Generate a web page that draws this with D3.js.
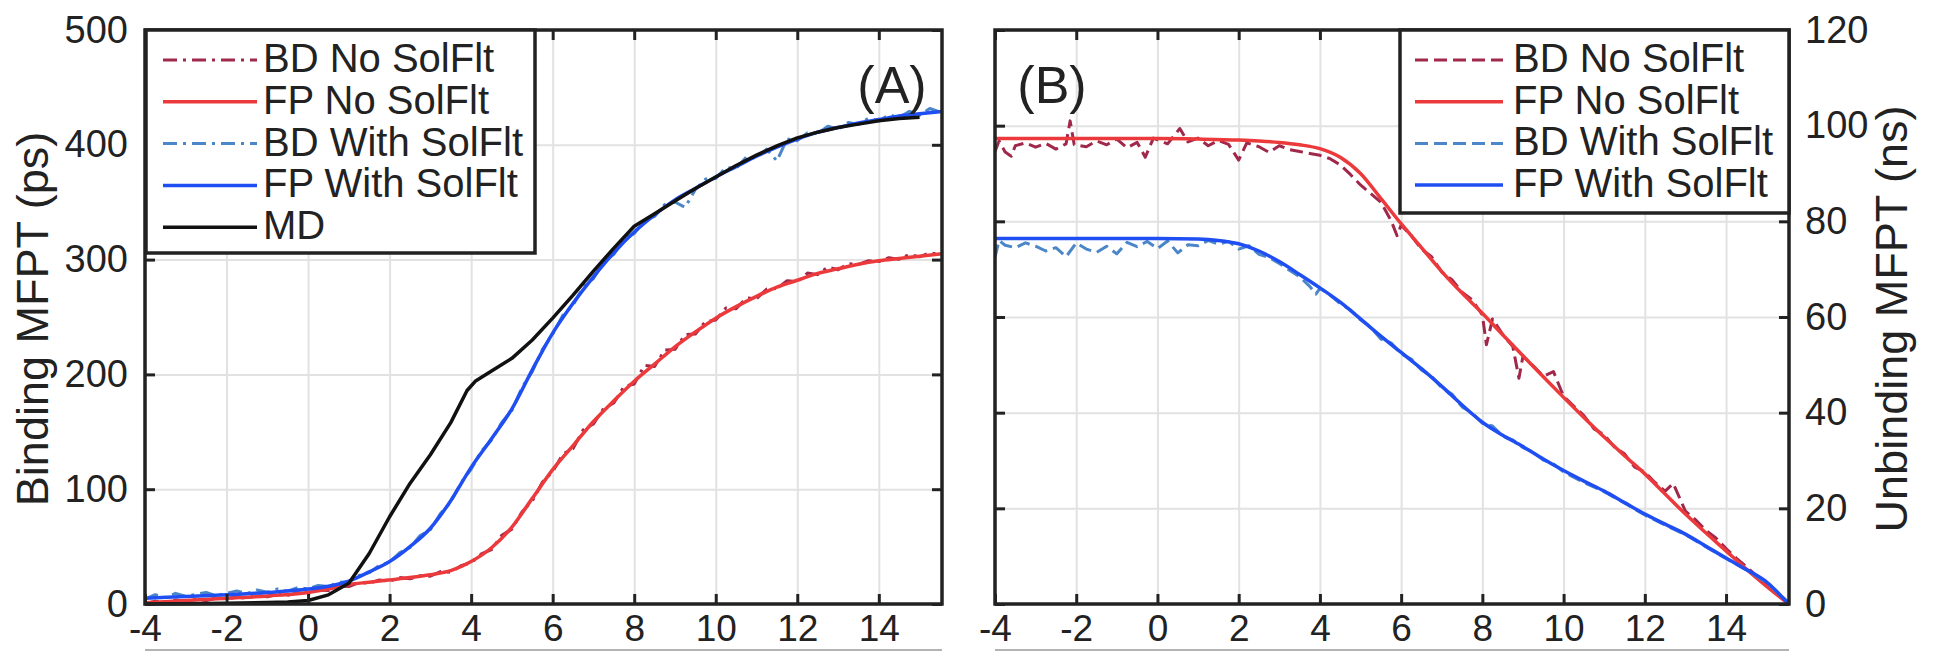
<!DOCTYPE html>
<html>
<head>
<meta charset="utf-8">
<script src="https://cdn.jsdelivr.net/npm/d3@7"></script>
<style>
  html, body { margin: 0; padding: 0; background: #fff; }
  svg { display: block; font-family: "Liberation Sans", Arial, Helvetica, sans-serif; }
</style>
</head>
<body>
<svg id="fig" width="1933" height="651"></svg>
<script>
// ---------------- data ----------------
const xTicks = [-4, -2, 0, 2, 4, 6, 8, 10, 12, 14];
const xTickLabels = ["-4", "-2", "0", "2", "4", "6", "8", "10", "12", "14"];
const bindTicks = [0, 100, 200, 300, 400, 500];
const unbindTicks = [0, 20, 40, 60, 80, 100, 120];

const namesA = ["BD No SolFlt", "FP No SolFlt", "BD With SolFlt", "FP With SolFlt", "MD"];
const namesB = ["BD No SolFlt", "FP No SolFlt", "BD With SolFlt", "FP With SolFlt"];

// Binding MFPT (ps)
const bdNoSolA = [[-4,0.5],[-3.75,2.5],[-3.5,1.2],[-3.25,3.4],[-3,2.2],[-2.75,4.1],[-2.5,3],[-2.25,5.2],[-2,4.3],[-1.75,5.9],[-1.5,5.1],[-1.25,7.4],[-1,6.2],[-0.75,8.3],[-0.5,7.5],[-0.25,9.9],[0,9.1],[0.25,12.2],[0.5,11.8],[0.75,15.6],[1,15.2],[1.25,18.6],[1.5,18.1],[1.75,20.9],[2,19.8],[2.25,23.1],[2.5,21.9],[2.75,24.7],[3,24.2],[3.25,28.3],[3.5,27.6],[3.75,33.4],[4,35.8],[4.25,43.6],[4.5,47.4],[4.75,59.8],[5,65.2],[5.25,80.4],[5.5,89.6],[5.75,106.3],[6,115.2],[6.25,130.6],[6.5,135.4],[6.75,151.8],[7,156.9],[7.25,170.2],[7.5,175.1],[7.75,189.5],[8,191.6],[8.25,207.8],[8.5,206.9],[8.75,221.3],[9,221.8],[9.25,234.6],[9.5,235.2],[9.75,246.1],[10,247.3],[10.25,257.9],[10.5,257.2],[10.75,266.8],[11,265.9],[11.25,274.4],[11.5,274.8],[11.75,281.6],[12,280.7],[12.25,288.3],[12.5,286.9],[12.75,293.5],[13,291.2],[13.25,296.4],[13.5,295.8],[13.75,299.1],[14,298.3],[14.25,301.7],[14.5,300.2],[14.75,304.6],[15,302.4],[15.25,306.1],[15.55,303.8]];
const fpNoSolA = [[-4,1],[-3,3],[-2,5],[-1,7],[0,10],[0.5,13],[1,17],[1.5,19],[2,21],[2.5,23],[3,25.5],[3.5,29],[4,37],[4.5,49],[5,67],[5.5,92],[6,117],[6.5,138],[7,159],[7.5,177],[8,194],[8.5,209],[9,224],[9.5,237],[10,249],[10.5,259],[11,268],[11.5,276],[12,282],[12.5,288],[13,292],[13.5,296],[14,299],[14.5,301],[15,303],[15.55,305]];
const bdWithSolA = [[-4,4.2],[-3.75,8.1],[-3.5,5.6],[-3.25,9.3],[-3,6.8],[-2.75,8.4],[-2.5,10.1],[-2.25,7.2],[-2,9.4],[-1.75,11.3],[-1.5,9.1],[-1.25,12.2],[-1,10.3],[-0.75,13.1],[-0.5,11.2],[-0.25,14.3],[0,13.1],[0.25,16.2],[0.5,15.1],[0.75,18.9],[1,19.4],[1.25,24.8],[1.5,27.3],[1.75,33.6],[2,36.4],[2.25,44.7],[2.5,49.2],[2.75,59.6],[3,64.8],[3.25,78.9],[3.5,88.7],[3.75,105.6],[4,117.4],[4.25,133.2],[4.5,142.6],[4.75,158.1],[5,168.7],[5.25,188.9],[5.5,202.4],[5.75,221.8],[6,235.1],[6.25,251.6],[6.5,260.4],[6.75,276.2],[7,283.5],[7.25,298.1],[7.5,304.6],[7.75,318.3],[8,322.7],[8.25,334.2],[8.5,337.6],[8.75,348.1],[9,350.2],[9.25,345.5],[9.5,361.1],[9.75,370.2],[10,370.6],[10.25,380.3],[10.5,379.4],[10.75,389.4],[11,388.6],[11.25,396.2],[11.5,385.9],[11.75,405.1],[12,403.6],[12.25,410.4],[12.5,409.8],[12.75,416.2],[13,413.7],[13.25,419.4],[13.5,417.6],[13.75,423.2],[14,420.8],[14.25,426.1],[14.5,423.7],[14.75,429.2],[15,425.8],[15.25,431.6],[15.55,427.9]];
const fpWithSolA = [[-4,5],[-3,6.5],[-2,8],[-1,10],[0,13],[0.5,15.5],[1,20],[1.5,28],[2,37],[2.5,50],[3,66],[3.5,90],[4,119],[4.5,144],[5,170],[5.5,204],[6,236],[6.5,262],[7,285],[7.5,306],[8,324],[8.5,339],[9,352],[9.5,362],[10,372],[10.5,381],[11,390],[11.5,398],[12,405],[12.5,411],[13,415],[13.5,419],[14,422],[14.5,425],[15,427],[15.55,429]];
const mdBindA = [[-4,0],[-3,0.3],[-2,0.6],[-1,1.2],[-0.5,1.8],[0,3],[0.5,8],[1,18],[1.5,44],[2,76],[2.5,105],[3,130],[3.5,158],[3.9,186],[4.1,194],[4.5,203],[5,214],[5.5,230],[6,249],[6.5,269],[7,290],[7.5,310],[8,329],[8.5,340],[9,351],[9.5,362],[10,372],[10.5,382],[11,391],[11.5,399],[12,406],[12.5,411],[13,415],[13.5,418],[14,421],[14.5,423],[15,424]];

// Unbinding MFPT (ns)
const bdNoSolB = [[-4,94.6],[-3.9,96.8],[-3.75,94.5],[-3.6,93.6],[-3.5,95.8],[-3.25,96.4],[-3,95.5],[-2.75,96.3],[-2.5,95.1],[-2.25,96.2],[-2.15,101],[-2.05,96],[-1.75,95.6],[-1.5,96.8],[-1.25,96],[-1,97.2],[-0.75,95.4],[-0.5,96.5],[-0.3,93.4],[-0.1,97.4],[0.25,96.2],[0.55,99.4],[0.75,96.6],[1,97.4],[1.25,95.8],[1.5,96.9],[1.75,96.1],[2,92.8],[2.2,96.4],[2.5,95.6],[2.75,94.4],[3,95.8],[3.25,95],[3.5,94.6],[3.75,94.2],[4,93.8],[4.25,93.1],[4.5,91.8],[4.75,89.8],[5,87.6],[5.25,85.8],[5.5,84],[5.75,80.2],[5.9,77],[6,79.2],[6.25,77],[6.5,74.2],[6.75,72.6],[7,69.4],[7.25,67.8],[7.5,65.2],[7.75,63.6],[8,60.4],[8.1,54.2],[8.25,59.6],[8.5,56.4],[8.75,53.8],[8.9,47.2],[9,51.8],[9.25,49.8],[9.5,47.6],[9.75,48.6],[10,43.4],[10.25,41.4],[10.5,39.4],[10.75,36.6],[11,35.4],[11.25,32.8],[11.5,31.4],[11.75,28.6],[12,27.6],[12.25,25.4],[12.5,23.6],[12.7,25.2],[13,19.4],[13.25,17.6],[13.5,15.4],[13.75,13.8],[14,11.6],[14.25,9.6],[14.5,7.8],[14.75,5.9],[15,4.2],[15.25,2.4],[15.5,0.6]];
const fpNoSolB = [[-4,97.3],[-3,97.3],[-2,97.3],[-1,97.3],[0,97.3],[1,97.2],[2,97.0],[2.5,96.8],[3,96.5],[3.5,96.0],[4,95.2],[4.5,93.4],[5,90.0],[5.5,84.8],[6,79.5],[6.5,74.5],[7,69.5],[7.5,65.0],[8,60.8],[8.5,56.3],[9,51.9],[9.5,47.5],[10,43.2],[10.5,39.0],[11,34.9],[11.5,31.0],[12,27.2],[12.5,23.0],[13,18.8],[13.5,14.9],[14,11.1],[14.5,7.3],[15,3.7],[15.5,0.3]];
const bdWithSolB = [[-4,72.5],[-3.9,76],[-3.75,75],[-3.5,74.5],[-3.25,75.5],[-3,74.8],[-2.75,73.8],[-2.5,74.5],[-2.25,72.6],[-2,75.5],[-1.75,74.2],[-1.5,73.5],[-1.25,74.8],[-1,73.2],[-0.75,75.6],[-0.5,74.7],[-0.25,75.8],[0,74.3],[0.25,75.9],[0.5,73.4],[0.75,75.1],[1,74.9],[1.25,76],[1.5,75.2],[1.75,75.8],[2,74.2],[2.25,74.9],[2.5,73.1],[2.75,72.4],[3,71.2],[3.25,69.8],[3.5,68.4],[3.75,66.4],[3.9,64.8],[4,66],[4.25,64.6],[4.5,62.8],[4.75,61.5],[5,59.4],[5.25,57.9],[5.5,55.4],[5.75,54.6],[6,52.3],[6.25,51.2],[6.5,48.9],[6.75,47.6],[7,45.2],[7.25,43.9],[7.5,41.2],[7.75,39.9],[8,37.8],[8.25,37.2],[8.5,35.1],[8.75,34.3],[9,32.7],[9.25,31.8],[9.5,30.1],[9.75,29.3],[10,27.6],[10.5,25.4],[11,23.5],[11.5,21.1],[12,18.6],[12.5,16.5],[13,14.5],[13.5,12.0],[14,9.5],[14.5,7.1],[15,4.5],[15.5,0.6]];
const fpWithSolB = [[-4,76.4],[-3,76.4],[-2,76.4],[-1,76.4],[0,76.4],[1,76.3],[1.5,76.0],[2,75.3],[2.5,73.8],[3,71.6],[3.5,68.9],[4,66.1],[4.5,63.1],[5,59.6],[5.5,56.0],[6,52.6],[6.5,49.2],[7,45.5],[7.5,41.6],[8,38.0],[8.5,35.3],[9,32.9],[9.5,30.3],[10,27.9],[10.5,25.7],[11,23.6],[11.5,21.2],[12,18.8],[12.5,16.7],[13,14.6],[13.5,12.1],[14,9.6],[14.5,7.2],[15,4.6],[15.5,0.4]];

// ---------------- styles ----------------
const INK = "#222";
const GRID = "#e2e2e2";
const styles = {
  bdNo:   { color: "#a0284a", width: 3,   dashA: "14,6,3,6", dashB: "13,6" },
  fpNo:   { color: "#ec3a3c", width: 3.5 },
  bdWith: { color: "#4a86c8", width: 3,   dashA: "14,6,3,6", dashB: "13,6" },
  fpWith: { color: "#1f4ff2", width: 3.5 },
  md:     { color: "#111",    width: 3.5 }
};

const svg = d3.select("#fig");
const X_DOMAIN = [-4, 15.55];

function drawPanel(cfg) {
  const { left, right, top, bottom } = cfg.box;
  const x = d3.scaleLinear().domain(X_DOMAIN).range([left, right]);
  const y = d3.scaleLinear().domain(cfg.yDomain).range([bottom, top]);
  const g = svg.append("g");

  // grid
  g.append("g").attr("transform", `translate(0,${bottom})`)
    .call(d3.axisBottom(x).tickValues(xTicks).tickSize(-(bottom - top)).tickFormat(""))
    .call(s => s.select(".domain").remove())
    .call(s => s.selectAll("line").attr("stroke", GRID).attr("stroke-width", 2));
  g.append("g").attr("transform", `translate(${left},0)`)
    .call(d3.axisLeft(y).tickValues(cfg.yTicks).tickSize(-(right - left)).tickFormat(""))
    .call(s => s.select(".domain").remove())
    .call(s => s.selectAll("line").attr("stroke", GRID).attr("stroke-width", 2));

  // data lines
  const clipId = "clip-" + cfg.id;
  svg.append("clipPath").attr("id", clipId).append("rect")
    .attr("x", left).attr("y", top - 4).attr("width", right - left).attr("height", bottom - top + 8);
  const lines = g.append("g").attr("clip-path", `url(#${clipId})`);
  cfg.series.forEach(s => {
    const gen = d3.line().x(d => x(d[0])).y(d => y(d[1]))
      .curve(s.smooth ? d3.curveMonotoneX : d3.curveLinear);
    lines.append("path").datum(s.data)
      .attr("fill", "none")
      .attr("stroke", s.style.color)
      .attr("stroke-width", s.style.width)
      .attr("stroke-linejoin", "round")
      .attr("stroke-dasharray", s.dash || null)
      .attr("d", gen);
  });

  // inward ticks on all four sides
  const tickStyle = s => s.call(t => t.select(".domain").remove())
    .call(t => t.selectAll("line").attr("stroke", INK).attr("stroke-width", 3));
  g.append("g").attr("transform", `translate(0,${bottom})`)
    .call(d3.axisBottom(x).tickValues(xTicks).tickSize(-10).tickFormat("")).call(tickStyle);
  g.append("g").attr("transform", `translate(0,${top})`)
    .call(d3.axisTop(x).tickValues(xTicks).tickSize(-10).tickFormat("")).call(tickStyle);
  g.append("g").attr("transform", `translate(${left},0)`)
    .call(d3.axisLeft(y).tickValues(cfg.yTicks).tickSize(-10).tickFormat("")).call(tickStyle);
  g.append("g").attr("transform", `translate(${right},0)`)
    .call(d3.axisRight(y).tickValues(cfg.yTicks).tickSize(-10).tickFormat("")).call(tickStyle);

  // frame
  g.append("rect").attr("x", left).attr("y", top)
    .attr("width", right - left).attr("height", bottom - top)
    .attr("fill", "none").attr("stroke", INK).attr("stroke-width", 3.5);

  // tick labels
  const labelStyle = size => s => s.call(t => t.select(".domain").remove())
    .call(t => t.selectAll("line").remove())
    .call(t => t.selectAll("text").attr("fill", INK).attr("font-size", size)
      .attr("font-family", '"Liberation Sans", Arial, Helvetica, sans-serif'));
  g.append("g").attr("transform", `translate(0,${bottom})`)
    .call(d3.axisBottom(x).tickValues(xTicks).tickSize(0).tickPadding(11)
      .tickFormat((d, i) => xTickLabels[i]))
    .call(labelStyle(37));
  if (cfg.labelSide === "left") {
    g.append("g").attr("transform", `translate(${left},0)`)
      .call(d3.axisLeft(y).tickValues(cfg.yTicks).tickSize(0).tickPadding(17)).call(labelStyle(38));
  } else {
    g.append("g").attr("transform", `translate(${right},0)`)
      .call(d3.axisRight(y).tickValues(cfg.yTicks).tickSize(0).tickPadding(16)).call(labelStyle(38));
  }

  // axis title
  svg.append("text")
    .attr("transform", `translate(${cfg.titleX},${(top + bottom) / 2 + 2}) rotate(-90)`)
    .attr("text-anchor", "middle").attr("font-size", 45).attr("fill", INK)
    .text(cfg.title);

  // panel tag
  svg.append("text").attr("x", cfg.tag.x).attr("y", cfg.tag.y)
    .attr("text-anchor", "middle").attr("font-size", 52).attr("fill", INK)
    .text(cfg.tag.text);

  // legend
  const L = cfg.legend;
  const lg = svg.append("g");
  lg.append("rect").attr("x", L.x0).attr("y", top).attr("width", L.x1 - L.x0).attr("height", L.y1 - top)
    .attr("fill", "#fff").attr("stroke", INK).attr("stroke-width", 3.5);
  cfg.series.forEach((s, i) => {
    const ry = L.row0 + i * L.step;
    lg.append("line").attr("x1", L.lineX0).attr("x2", L.lineX1).attr("y1", ry).attr("y2", ry)
      .attr("stroke", s.style.color).attr("stroke-width", s.style.width)
      .attr("stroke-dasharray", s.dash || null);
    lg.append("text").attr("x", L.textX).attr("y", ry + 12)
      .attr("font-size", 40).attr("fill", INK).text(cfg.names[i]);
  });

  // edge of the frame row below, cropped at the figure border
  svg.append("line").attr("x1", left).attr("x2", right).attr("y1", 650).attr("y2", 650)
    .attr("stroke", "#9a9a9a").attr("stroke-width", 1.5);
}

drawPanel({
  id: "a",
  box: { left: 145, right: 942, top: 30, bottom: 604 },
  yDomain: [0, 500], yTicks: bindTicks, labelSide: "left",
  title: "Binding MFPT (ps)", titleX: 48,
  tag: { text: "(A)", x: 892, y: 103 },
  names: namesA,
  series: [
    { data: bdNoSolA,   style: styles.bdNo,   dash: styles.bdNo.dashA },
    { data: fpNoSolA,   style: styles.fpNo,   smooth: true },
    { data: bdWithSolA, style: styles.bdWith, dash: styles.bdWith.dashA },
    { data: fpWithSolA, style: styles.fpWith, smooth: true },
    { data: mdBindA,    style: styles.md }
  ],
  legend: { x0: 146, x1: 535, y1: 253, row0: 60, step: 41.8, lineX0: 163, lineX1: 257, textX: 263 }
});

drawPanel({
  id: "b",
  box: { left: 995, right: 1789, top: 30, bottom: 604 },
  yDomain: [0, 120], yTicks: unbindTicks, labelSide: "right",
  title: "Unbinding MFPT (ns)", titleX: 1907,
  tag: { text: "(B)", x: 1052, y: 103 },
  names: namesB,
  series: [
    { data: bdNoSolB,   style: styles.bdNo,   dash: styles.bdNo.dashB },
    { data: fpNoSolB,   style: styles.fpNo,   smooth: true },
    { data: bdWithSolB, style: styles.bdWith, dash: styles.bdWith.dashB },
    { data: fpWithSolB, style: styles.fpWith, smooth: true }
  ],
  legend: { x0: 1400, x1: 1789, y1: 213, row0: 60, step: 41.7, lineX0: 1415, lineX1: 1503, textX: 1513 }
});
</script>
</body>
</html>
